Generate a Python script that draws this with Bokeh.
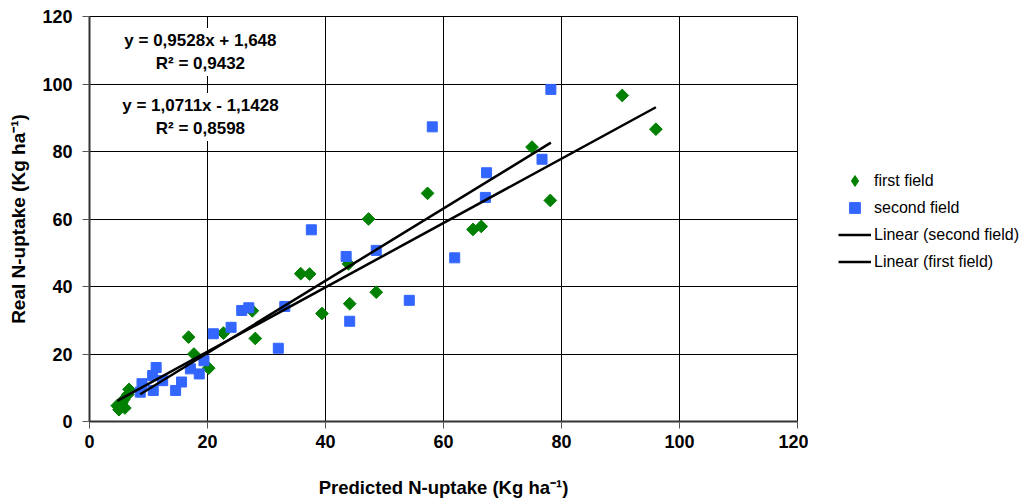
from bokeh.plotting import figure
from bokeh.models import Range1d, Label, Legend, LegendItem, FixedTicker
from bokeh.layouts import row
from bokeh.embed import file_html
from bokeh.resources import INLINE
import numpy as np

# first field (green diamonds)
first_x = [5.0, 4.7, 5.5, 6.0, 6.5, 6.7, 5.8, 16.8, 17.7, 20.2, 22.7, 27.6, 28.1,
           35.8, 37.3, 39.4, 43.9, 44.1, 47.3, 48.6, 57.3, 65.0, 66.4, 75.0, 78.1, 90.3, 96.0]
first_y = [3.5, 4.7, 5.5, 4.0, 8.0, 9.5, 6.5, 25.0, 20.0, 15.8, 26.2, 32.8, 24.6,
           43.8, 43.7, 32.0, 46.7, 34.9, 60.0, 38.3, 67.6, 56.9, 57.8, 81.3, 65.5, 96.6, 86.6]

# second field (blue squares)
second_x = [8.6, 8.9, 10.8, 10.7, 11.3, 12.4, 14.6, 15.6, 17.1, 18.6, 19.4, 21.0, 24.0, 25.8,
            27.0, 32.0, 33.1, 37.6, 43.5, 44.1, 48.6, 54.2, 58.1, 61.9, 67.1, 67.3, 76.7, 78.2]
second_y = [8.7, 11.2, 9.2, 13.6, 16.0, 12.1, 9.2, 11.7, 15.6, 14.1, 18.0, 26.0, 27.9, 32.9,
            33.7, 21.7, 34.1, 56.8, 48.9, 29.7, 50.7, 35.9, 87.3, 48.5, 66.4, 73.7, 77.7, 98.4]

fit_first = [0.9528, 1.648]
fit_second = [1.0711, -1.1428]
eq_texts = ["y = 0,9528x + 1,648", "R\u00b2 = 0,9432", "y = 1,0711x - 1,1428", "R\u00b2 = 0,8598"]
eq_y = [112.9, 106.1, 93.6, 86.8]
eq_x = 18.8
ticks = [0, 20, 40, 60, 80, 100, 120]
legend_labels = ["first field", "second field", "Linear (second field)", "Linear (first field)"]

FONT = "Liberation Sans"
GREEN = "#008000"
BLUE = "#3366FF"

H = 503
p = figure(width=808, height=H, output_backend="svg", toolbar_location=None,
           x_range=Range1d(0, 120), y_range=Range1d(0, 120),
           min_border_left=89, min_border_right=11, min_border_top=16,
           min_border_bottom=H - 421,
           background_fill_color="white", border_fill_color="white")

p.outline_line_color = "black"
p.outline_line_width = 1

for ax in (p.xaxis, p.yaxis):
    ax.ticker = FixedTicker(ticks=ticks)
    ax.minor_tick_line_color = None
    ax.major_tick_out = 7
    ax.major_tick_in = 0
    ax.axis_line_color = "#333333"
    ax.axis_line_width = 2
    ax.major_tick_line_color = "#555555"
    ax.major_label_text_font = FONT
    ax.major_label_text_font_style = "bold"
    ax.major_label_text_font_size = "18px"
    ax.major_label_text_color = "black"
    ax.axis_label_text_font = FONT
    ax.axis_label_text_font_style = "bold"
    ax.axis_label_text_color = "black"

p.xaxis.axis_label_text_font_size = "18.5px"
p.yaxis.axis_label_text_font_size = "19px"
p.xaxis.axis_label = "Predicted N-uptake (Kg ha\u207b\u00b9)"
p.yaxis.axis_label = "Real N-uptake (Kg ha\u207b\u00b9)"
p.xaxis.major_label_standoff = 6
p.yaxis.major_label_standoff = 10
p.xaxis.axis_label_standoff = 26
p.yaxis.axis_label_standoff = 10

for g in (p.xgrid, p.ygrid):
    g.ticker = FixedTicker(ticks=ticks)
    g.grid_line_color = "black"
    g.grid_line_width = 1

r1 = p.scatter(first_x, first_y, marker="square", angle=np.pi / 4, size=9,
               fill_color=GREEN, line_color=GREEN)
r2 = p.scatter(second_x, second_y, marker="square", size=10,
               fill_color=BLUE, line_color=BLUE)

x1 = np.array([min(first_x), max(first_x)])
x2 = np.array([min(second_x), max(second_x)])
l2 = p.line(x2, fit_second[0] * x2 + fit_second[1], line_color="black", line_width=2.5)
l1 = p.line(x1, fit_first[0] * x1 + fit_first[1], line_color="black", line_width=2.5)

for t, yy in zip(eq_texts, eq_y):
    p.add_layout(Label(x=eq_x, y=yy, text=t, text_align="center", text_baseline="middle",
                       text_font=FONT, text_font_style="bold", text_font_size="17px",
                       text_color="black", background_fill_color="white",
                       padding=3))

# legend panel (separate figure to the right of the chart); its ranges exclude the
# data so the key renderers only show up as legend glyphs
lf = figure(width=216, height=H, output_backend="svg", toolbar_location=None,
            x_range=Range1d(-2, -1), y_range=Range1d(-2, -1),
            x_axis_type=None, y_axis_type=None, min_border=0,
            background_fill_color="white", border_fill_color="white")
lf.outline_line_color = None
lf.xgrid.visible = False
lf.ygrid.visible = False
k1 = lf.scatter(first_x, first_y, marker="diamond", size=13, fill_color=GREEN, line_color=GREEN)
k2 = lf.scatter(second_x, second_y, marker="square", size=10, fill_color=BLUE, line_color=BLUE)
k3 = lf.line(x2, fit_second[0] * x2 + fit_second[1], line_color="black", line_width=2.5)
k4 = lf.line(x1, fit_first[0] * x1 + fit_first[1], line_color="black", line_width=2.5)

legend = Legend(items=[LegendItem(label=lab, renderers=[rr])
                       for lab, rr in zip(legend_labels, [k1, k2, k3, k4])],
                location=(30, 146), orientation="vertical")
legend.border_line_color = None
legend.background_fill_alpha = 0
legend.margin = 0
legend.padding = 0
legend.spacing = 0
legend.glyph_width = 33
legend.glyph_height = 27
legend.label_height = 27
legend.label_standoff = 3
legend.label_text_font = FONT
legend.label_text_font_size = "16px"
legend.label_text_color = "black"
lf.add_layout(legend)

layout = row(p, lf, spacing=0)
open("out.html", "w").write(file_html(layout, INLINE))
